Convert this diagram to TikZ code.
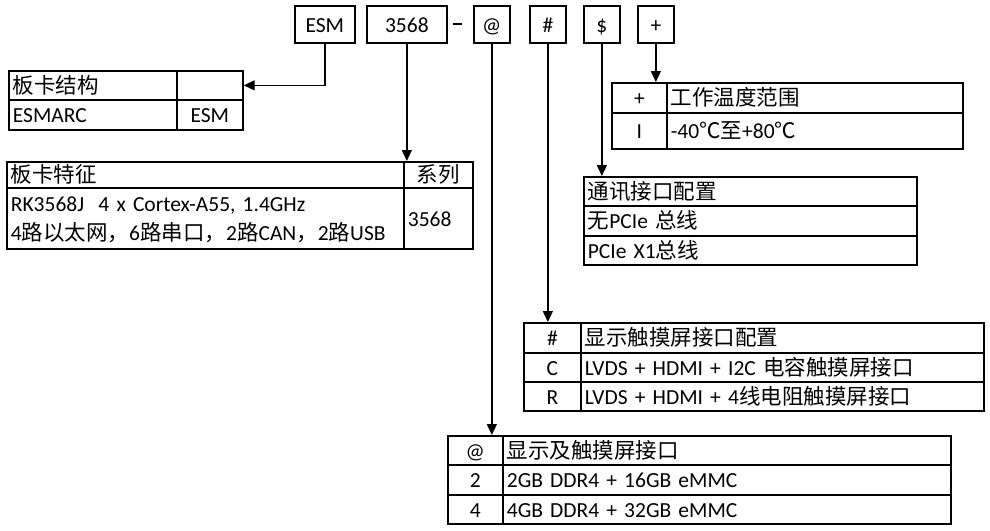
\documentclass[tikz,border=0pt]{standalone}
\usepackage{fontspec}
\setmainfont{Carlito}
\newfontfamily\cjkf{Noto Sans CJK SC}
\newcommand\zh[1]{{\cjkf #1}}
\newcommand\st{\rule[-2pt]{0pt}{20pt}}
\usetikzlibrary{arrows.meta}
\begin{document}
\begin{tikzpicture}[x=1pt,y=-1pt,
  cell/.style={draw, line width=1.7pt, anchor=north west, inner sep=0pt,
    font=\fontsize{21.5}{29}\selectfont},
  conn/.style={line width=1.4pt, -{Triangle[length=11pt,width=10pt]}},
  plain/.style={line width=1.2pt}]
\newcommand\cc[6]{\node[cell, minimum width=#4pt, minimum height=#5pt] (#1) at (#2,#3) {\st #6};}
\newcommand\lc[6]{\pgfmathsetmacro\tw{#4-8}\node[cell, inner xsep=4pt, text width=\tw pt, align=left, minimum height=#5pt] (#1) at (#2,#3) {\st #6};}
\useasboundingbox (0,0) rectangle (990,530);
% top code boxes
\cc{esm}{294}{5}{60}{37}{ESM}
\cc{ser}{366}{5}{80}{37}{3568}
\cc{at}{473}{5}{36}{37}{@}
\cc{hash}{529}{5}{36}{37}{\#}
\cc{dollar}{583}{5}{36}{37}{\$}
\cc{plus}{637}{5}{36}{37}{+}
\draw[plain] (453,24) -- (462,24);
% board structure
\lc{bsa}{8}{70}{168}{29}{\zh{板卡结构}}
\cc{bsb}{176}{70}{66}{29}{}
\lc{bsc}{8}{99}{168}{30}{ESMARC}
\cc{bsd}{176}{99}{66}{30}{ESM}
% board feature
\lc{bfa}{6}{161}{397}{26}{\zh{板卡特征}}
\cc{bfb}{403}{161}{69}{26}{\zh{系列}}
\lc{bfc}{6}{187}{397}{61}{RK3568J\ \ 4 x Cortex-A55, 1.4GHz\\\st 4\zh{路以太网，}6\zh{路串口，}2\zh{路}CAN\zh{，}2\zh{路}USB}
\lc{bfd}{403}{187}{69}{61}{3568}
% temperature
\cc{ta}{611}{82}{55}{30}{+}
\lc{tb}{666}{82}{296}{30}{\zh{工作温度范围}}
\cc{tc}{611}{112}{55}{36}{I}
\lc{td}{666}{112}{296}{36}{-40\zh{℃至}+80\zh{℃}}
% communication
\lc{ca}{583}{176}{333}{29}{\zh{通讯接口配置}}
\lc{cb}{583}{205}{333}{30}{\zh{无}PCIe \zh{总线}}
\lc{cc}{583}{235}{333}{29}{PCIe X1\zh{总线}}
% display / touch
\cc{da}{523}{322}{57}{30}{\#}
\lc{db}{580}{322}{403}{30}{\zh{显示触摸屏接口配置}}
\cc{dc}{523}{352}{57}{29}{C}
\lc{dd}{580}{352}{403}{29}{LVDS + HDMI + I2C \zh{电容触摸屏接口}}
\cc{de}{523}{381}{57}{29}{R}
\lc{df}{580}{381}{403}{29}{LVDS + HDMI + 4\zh{线电阻触摸屏接口}}
% memory
\cc{ma}{447}{435}{55}{29}{@}
\lc{mb}{502}{435}{448}{29}{\zh{显示及触摸屏接口}}
\cc{mc}{447}{464}{55}{30}{2}
\lc{md}{502}{464}{448}{30}{2GB DDR4 + 16GB eMMC}
\cc{me}{447}{494}{55}{29}{4}
\lc{mf}{502}{494}{448}{29}{4GB DDR4 + 32GB eMMC}
% connectors
\draw[conn] (esm.south) |- (bsb.east);
\draw[conn] (ser.south) -- (ser.south |- bfb.north);
\draw[conn] (at.south) -- (at.south |- ma.north);
\draw[conn] (hash.south) -- (hash.south |- da.north);
\draw[conn] (dollar.south) -- (dollar.south |- ca.north);
\draw[conn] (plus.south) -- (plus.south |- ta.north);
\end{tikzpicture}
\end{document}
